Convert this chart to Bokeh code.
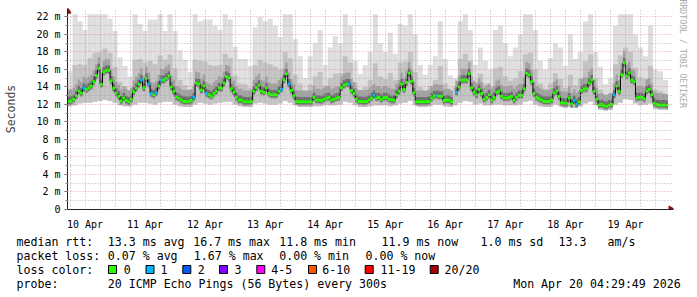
import numpy as np
from bokeh.plotting import figure
from bokeh.models import FixedTicker, Range1d, Title
from bokeh.embed import file_html
from bokeh.resources import INLINE
from bokeh.core.properties import value

# ---------------- data ----------------
FIRST_HOUR = 5          # first hourly sample: 10 Apr 05:00 (hours after 10 Apr 00:00)
median_ms = [
    12.33, 12.4, 12.6, 13.0, 13.55, 13.3, 13.85, 13.7, 13.9, 14.1,
    14.6, 15.3, 16.1, 14.3, 15.7, 15.9, 15.9, 14.7, 13.85, 13.3,
    12.95, 12.4, 12.75, 12.45, 12.3, 12.6, 13.45, 13.85, 14.3, 14.8,
    13.9, 15.0, 14.35, 13.25, 13.1, 13.35, 14.1, 14.75, 14.75, 15.0,
    15.25, 14.0, 13.5, 12.85, 12.7, 12.5, 12.35, 12.35,
    12.35, 12.45, 12.8, 14.45, 14.35, 13.65, 14.1, 13.25, 13.1, 12.95,
    13.25, 13.5, 13.9, 13.85, 14.45, 15.2, 15.05, 13.8, 13.4, 12.8,
    12.5, 12.5, 12.3, 12.3, 12.3, 12.35, 13.5, 13.9, 14.2, 13.5,
    13.4, 13.9, 13.25, 13.1, 13.1, 13.1, 13.5, 13.75, 14.8, 15.5,
    14.35, 13.6, 13.0, 12.35, 12.3, 12.3, 12.3, 12.3,
    12.3, 12.3, 12.8, 12.5, 12.5, 12.45, 12.6, 12.75, 12.8, 12.5,
    12.6, 12.75, 12.8, 13.9, 14.2, 14.35, 14.35, 13.6, 13.25, 12.6,
    12.35, 12.35, 12.3, 12.35, 12.5, 12.75, 13.05, 12.75, 12.8, 12.6,
    12.8, 12.8, 12.6, 12.5, 12.5, 13.1, 13.5, 14.35, 13.7, 14.5,
    15.55, 14.65, 13.35, 12.3, 12.3, 12.3, 12.3, 12.3,
    12.35, 12.75, 13.0, 13.05, 12.95, 12.95, 12.45, 12.5, 12.5, 12.3,
    np.nan, 13.4, 14.0, 14.75, 14.8, 14.75, 15.5, 13.9, 13.4, 13.1,
    13.7, 13.25, 12.6, 12.8, 13.1, 12.5, 12.8, 13.4, 13.55, 12.95,
    12.75, 12.75, 12.8, 12.9, 12.5, 12.8, 13.05, 13.05, 13.8, 15.55,
    15.4, 14.6, 13.25, 12.8, 12.65, 12.5, 12.35, 12.35,
    12.35, 12.5, 13.3, 13.55, 12.9, 12.2, 12.15, 12.15, 12.75, 12.05,
    12.45, 12.05, 12.3, 13.6, 13.8, 13.8, 14.45, 14.8, 13.5, 12.6,
    11.95, 12.0, 11.85, 11.8, 11.95, 12.0, 13.1, 14.1, 13.5, 15.4,
    16.75, 15.25, 15.6, 14.75, 14.6, 12.75, 12.8, 12.8, 12.65, 13.55,
    13.7, 13.1, 12.15, 12.0, 11.95, 11.95, 11.95, 11.9,
]
# samples (index into median_ms) in which 1 of 20 pings was lost
loss1_samples = [6, 29, 32, 33, 35, 37, 50, 55, 85, 88, 112, 122, 147, 155, 202, 203, 218]

# smoke, in 2-hour bins starting at FIRST_HOUR
smoke_top = [
    15.8, 22.3, 21.5, 20.5, 22.3, 22.3, 22.3, 22.3, 21.8, 20.4, 17.4, 16.4,
    15.2, 22.3, 21.2, 20.4, 21.7, 21.7, 22.3, 20.4, 22.3, 20.4, 18.2, 17.1,
    15.7, 22.3, 21.5, 21.7, 21.7, 21.0, 20.5, 22.3, 21.7, 18.6, 17.2, 17.2,
    16.4, 20.8, 22.0, 21.5, 21.8, 21.0, 19.7, 22.3, 22.3, 19.5, 17.5, 15.0,
    17.5, 19.0, 20.5, 16.5, 18.5, 19.8, 19.0, 22.3, 21.0, 17.0, 15.5, 16.5,
    18.0, 22.3, 19.0, 18.0, 20.2, 17.8, 21.2, 21.0, 22.3, 20.0, 16.5, 15.4,
    16.5, 17.5, 21.5, 17.2, 15.3, 15.0, 21.5, 22.3, 20.5, 16.5, 18.5, 17.0,
    16.0, 20.5, 21.0, 19.0, 17.5, 18.5, 20.0, 22.3, 22.3, 20.5, 17.0, 16.0,
    17.3, 19.0, 18.5, 16.4, 20.0, 17.2, 18.0, 21.5, 22.3, 18.0, 16.3, 14.3,
    15.0, 21.0, 22.3, 22.3, 22.3, 20.0, 18.5, 17.5, 21.0, 16.0, 15.8, 14.8,
]
smoke_mid = [
    13.8, 16.5, 16.6, 16.5, 17.3, 17.9, 18.0, 18.4, 17.9, 16.3, 14.6, 14.1,
    13.6, 17.1, 17.2, 16.8, 17.0, 16.6, 17.6, 17.1, 17.7, 16.1, 14.8, 14.2,
    13.7, 17.1, 17.0, 16.9, 16.5, 16.4, 16.5, 17.8, 17.3, 15.3, 14.4, 14.3,
    13.9, 16.5, 17.1, 16.8, 16.6, 16.3, 16.0, 18.0, 17.3, 15.4, 14.4, 13.4,
    14.3, 15.2, 15.7, 14.2, 15.0, 15.5, 15.6, 17.5, 16.8, 14.5, 13.6, 14.0,
    14.8, 16.7, 15.2, 14.9, 15.6, 14.8, 16.8, 16.9, 18.0, 15.7, 14.0, 13.5,
    14.1, 14.8, 16.4, 14.4, 13.6, 14.0, 17.2, 17.8, 17.0, 14.6, 15.5, 14.4,
    14.1, 16.1, 16.3, 15.2, 14.7, 15.0, 15.8, 17.7, 17.9, 16.0, 14.4, 13.8,
    14.4, 15.6, 14.9, 13.9, 15.4, 14.2, 15.0, 16.9, 17.7, 15.0, 13.7, 12.8,
    13.2, 16.6, 17.6, 18.5, 18.0, 16.2, 15.1, 14.9, 16.4, 13.7, 13.5, 13.1,
]
smoke_low = [
    11.8, 11.9, 12.1, 12.2, 12.2, 12.3, 12.4, 12.5, 12.4, 12.2, 11.9, 11.8,
    11.8, 12.0, 12.2, 12.2, 12.1, 12.0, 12.2, 12.3, 12.3, 12.0, 11.8, 11.7,
    11.7, 12.0, 12.2, 12.1, 12.0, 12.1, 12.2, 12.3, 12.3, 12.0, 11.8, 11.7,
    11.7, 12.1, 12.2, 12.1, 12.0, 12.0, 12.1, 12.4, 12.2, 11.9, 11.7, 11.7,
    11.7, 11.8, 11.8, 11.9, 11.9, 11.9, 12.0, 12.3, 12.2, 11.9, 11.7, 11.7,
    11.8, 11.9, 11.9, 11.9, 11.8, 11.9, 12.1, 12.2, 12.4, 11.9, 11.7, 11.7,
    11.8, 12.0, 12.0, 11.8, 11.7, 11.9, 12.2, 12.4, 12.3, 12.0, 12.1, 11.9,
    11.9, 12.0, 12.0, 11.9, 11.9, 11.9, 12.0, 12.3, 12.4, 12.0, 11.8, 11.7,
    11.7, 12.0, 11.8, 11.6, 11.7, 11.6, 11.8, 12.1, 12.3, 11.9, 11.4, 11.3,
    11.4, 12.0, 12.2, 12.6, 12.5, 12.1, 11.9, 12.0, 12.1, 11.5, 11.4, 11.4,
]

day_labels = ["10 Apr", "11 Apr", "12 Apr", "13 Apr", "14 Apr",
              "15 Apr", "16 Apr", "17 Apr", "18 Apr", "19 Apr"]
y_ticks = [0, 2, 4, 6, 8, 10, 12, 14, 16, 18, 20, 22]

loss_labels = ["0", "1", "2", "3", "4-5", "6-10", "11-19", "20/20"]
loss_colors = ["#26ff00", "#00b8ff", "#0059ff", "#7e00ff",
               "#ff00ff", "#ff5500", "#ff0000", "#a10000"]

rtt_items = ["median rtt:", "13.3 ms avg", "16.7 ms max", "11.8 ms min",
             "11.9 ms now", "1.0 ms sd", "13.3", "am/s"]
loss_items = ["packet loss:", "0.07 % avg", "1.67 % max", "0.00 % min", "0.00 % now"]
probe_items = ["probe:", "20 ICMP Echo Pings (56 Bytes) every 300s", "Mon Apr 20 04:29:49 2026"]

# ---------------- derived ----------------
n = len(median_ms)
med = np.array(median_ms, dtype=float)
hour_left = FIRST_HOUR + np.arange(n)
hour_mid = hour_left + 0.5
loss = np.zeros(n, dtype=int)
loss[loss1_samples] = 1
seg_colors = [loss_colors[l] for l in loss]

nb = len(smoke_top)
bin_left = FIRST_HOUR + 2 * np.arange(nb)
bin_right = bin_left + 2

MONO = value("DejaVu Sans Mono")
PX_PER_H = 2.5
X0 = FIRST_HOUR
X1 = FIRST_HOUR + 242.2          # a little room right of the data for the axis arrow
Y0, YTOP = 0, 22.96              # graph area ends at 22.3; room above for the axis arrow
FRAME_W = (X1 - X0) * PX_PER_H

p = figure(width=697, height=232, output_backend="svg", toolbar_location=None,
           x_range=Range1d(X0, X1), y_range=Range1d(Y0, YTOP),
           min_border_left=67, min_border_right=int(round(697 - 67 - FRAME_W)),
           min_border_top=8, min_border_bottom=16,
           background_fill_color="white", border_fill_color="white")
p.outline_line_color = None

# smoke
p.quad(left=bin_left, right=bin_right, bottom=smoke_low, top=smoke_top,
       fill_color="#dedede", line_color=None)
p.quad(left=bin_left, right=bin_right, bottom=smoke_low, top=smoke_mid,
       fill_color="#c2c2c2", line_color=None)
p.quad(left=hour_left, right=hour_left + 1, bottom=med - 0.45, top=med + 1.3,
       fill_color="#a0a0a0", line_color=None)
p.quad(left=hour_left, right=hour_left + 1, bottom=med - 0.3, top=med + 0.55,
       fill_color="#6e6e6e", line_color=None)
p.quad(left=hour_left, right=hour_left + 1, bottom=med - 0.15, top=med + 0.2,
       fill_color="#404040", line_color=None)

# median
p.step(x=hour_mid, y=med, mode="center", line_color="black", line_width=1)
p.rect(x=hour_mid, y=med, width=1.15, height=3, height_units="screen",
       fill_color=seg_colors, line_color=None)

# axis arrow heads
p.scatter(x=[X1 - 1.0], y=[0], marker="triangle", size=7, angle=-np.pi / 2,
          fill_color="#8b1010", line_color="#8b1010")
p.scatter(x=[X0], y=[YTOP - 0.3], marker="triangle", size=7,
          fill_color="#8b1010", line_color="#8b1010")

# grids (drawn over the smoke, as rrdtool does)
midnights = [24 * k for k in range(1, 11)]
six_hours = [6 * k for k in range(1, 41) if (6 * k) % 24 != 0]
noons = [12 + 24 * k for k in range(10)]
p.xgrid.ticker = FixedTicker(ticks=midnights, minor_ticks=six_hours)
p.ygrid.ticker = FixedTicker(ticks=y_ticks, minor_ticks=list(range(1, 23, 2)))
for g in (p.xgrid, p.ygrid):
    g.grid_line_color = "#e06060"
    g.grid_line_alpha = 0.6
    g.grid_line_dash = "1 2"
    g.minor_grid_line_color = "#a0a0a0"
    g.minor_grid_line_alpha = 0.8
    g.minor_grid_line_dash = "1 2"
    g.level = "guide"

# axes
xa = p.xaxis[0]
xa.ticker = FixedTicker(ticks=noons)
xa.major_label_overrides = {t: lab for t, lab in zip(noons, day_labels)}
xa.major_tick_line_color = None
xa.minor_tick_line_color = None
xa.major_label_standoff = 3
xa.axis_line_color = "#222222"
xa.major_label_text_font = "DejaVu Sans Mono"
xa.major_label_text_font_size = "10px"
xa.major_label_text_color = "black"

ya = p.yaxis[0]
ya.ticker = FixedTicker(ticks=y_ticks, minor_ticks=list(range(0, 23)))
ya.major_label_overrides = {t: ("%d m" % t if t else "0") for t in y_ticks}
ya.major_tick_out = 3
ya.major_tick_in = 0
ya.minor_tick_out = 2
ya.minor_tick_in = 0
ya.major_tick_line_color = "#555555"
ya.minor_tick_line_color = "#888888"
ya.major_label_standoff = 4
ya.axis_line_color = "#222222"
ya.major_label_text_font = "DejaVu Sans Mono"
ya.major_label_text_font_size = "10px"
ya.major_label_text_color = "black"
ya.axis_label = "Seconds"
ya.axis_label_text_font = "DejaVu Sans Mono"
ya.axis_label_text_font_size = "11.5px"
ya.axis_label_text_font_style = "normal"
ya.axis_label_standoff = 15

# watermark on the right
p.add_layout(Title(text="RRDTOOL / TOBI OETIKER", align="left",
                   text_font="DejaVu Sans Mono", text_font_size="8.2px",
                   text_font_style="normal", text_color="#aaaaaa",
                   standoff=8, offset=-9), "right")

# ---------------- legend area (separate root below the chart) ----------------
q = figure(width=697, height=65, output_backend="svg", toolbar_location=None,
           x_range=Range1d(0, 697), y_range=Range1d(65, 0),
           x_axis_type=None, y_axis_type=None,
           min_border_left=0, min_border_right=0, min_border_top=0, min_border_bottom=0,
           background_fill_color="white", border_fill_color="white")
q.outline_line_color = None
q.xgrid.visible = False
q.ygrid.visible = False

FS = "11.6px"
rows_y = [9, 23, 37, 51]
rtt_x = [16, 107.3, 192.7, 278.7, 381, 480, 558, 607]
loss_x = [16, 107.3, 193.3, 278.7, 365]
probe_x = [16, 107.3, 512.7]
txt_x = rtt_x + loss_x + [16] + probe_x
txt_y = ([rows_y[0]] * len(rtt_x) + [rows_y[1]] * len(loss_x) + [rows_y[2]]
         + [rows_y[3]] * len(probe_x))
txt = rtt_items + loss_items + ["loss color:"] + probe_items
q.text(x=txt_x, y=txt_y, text=txt, text_font=MONO, text_font_size=FS,
       text_baseline="middle", text_align="left", text_color="black")

sq_x = [112, 149.5, 186.3, 223, 260.3, 312, 368.7, 433.7]
lab_x = [123.3, 160, 197.3, 234, 270.7, 321.7, 380, 444]
q.rect(x=sq_x, y=[rows_y[2]] * 8, width=8, height=8, fill_color=loss_colors,
       line_color="black", line_width=1)
q.text(x=lab_x, y=[rows_y[2]] * 8, text=loss_labels, text_font=MONO,
       text_font_size=FS, text_baseline="middle", text_align="left", text_color="black")

open("out.html", "w").write(file_html([p, q], INLINE))
